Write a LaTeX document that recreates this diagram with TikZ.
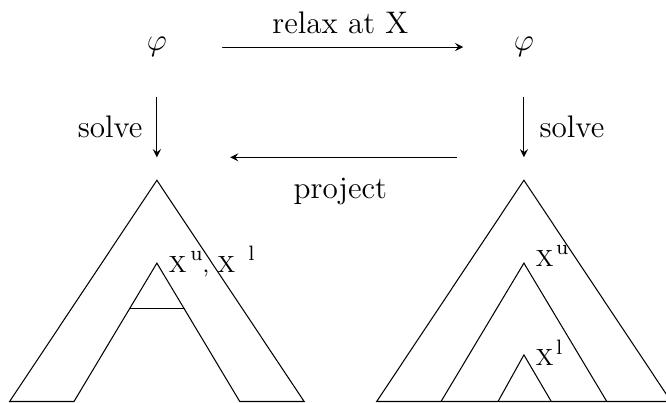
\documentclass[tikz,border=0pt]{standalone}
\usetikzlibrary{calc}
\newcommand{\upidx}[1]{\raisebox{1.1ex}{\footnotesize #1}}
\begin{document}
\begin{tikzpicture}[>=stealth, line cap=round,
    lbl/.style={font=\large},
    ptlbl/.style={font=\small, anchor=base west, inner sep=0pt}]
  \useasboundingbox (0,0) rectangle (9,5.446);
  % the two states
  \node[lbl] (phiL) at (2.12,4.81) {$\varphi$};
  \node[lbl] (phiR) at (7.08,4.81) {$\varphi$};
  % tree tops and arrow ends
  \coordinate (topL) at (2.12,3.01);
  \coordinate (topR) at (7.08,3.01);
  \coordinate (tipL) at (2.12,3.32);
  \coordinate (tipR) at (7.08,3.32);
  % arrows
  \draw[->, shorten <=0.89cm, shorten >=0.82cm] (phiL.center) -- (phiR.center)
        node[lbl, midway, above=1.5pt] {relax at X};
  \draw[->, shorten <=0.68cm, shorten >=0.31cm] (phiL.center) -- (topL)
        node[lbl, pos=0.6, left=2pt] {solve};
  \draw[->, shorten <=0.68cm, shorten >=0.31cm] (phiR.center) -- (topR)
        node[lbl, pos=0.6, right=2.5pt] {solve};
  \draw[->, shorten <=0.91cm, shorten >=0.99cm] (tipR) -- (tipL)
        node[lbl, midway, below=0.16cm] {project};
  % left tree
  \coordinate (inL) at (2.12,1.89);
  \coordinate (fL1) at (1.00,0.02);
  \coordinate (fL2) at (3.24,0.02);
  \draw (0.13,0.02) -- (topL) -- (4.11,0.02) -- (fL2) -- (inL) -- (fL1) -- cycle;
  \draw ($(inL)!0.33!(fL1)$) -- ($(inL)!0.33!(fL2)$);
  \node[ptlbl] (xL) at (2.27,1.77) {X\hspace{1.5pt}\upidx{u}, X\hspace{5pt}\upidx{l}};
  % right tree
  \coordinate (midR) at (7.08,1.89);
  \coordinate (lowR) at (7.08,0.65);
  \draw (5.09,0.02) -- (topR) -- (9.07,0.02) -- cycle;
  \draw (5.96,0.02) -- (midR) -- (8.20,0.02);
  \draw (6.73,0.02) -- (lowR) -- (7.45,0.02);
  \node[ptlbl] (xU) at (7.23,1.85) {X\hspace{1pt}\upidx{u}};
  \node[ptlbl] (xD) at (7.23,0.50) {X\hspace{1pt}\upidx{l}};
\end{tikzpicture}
\end{document}
